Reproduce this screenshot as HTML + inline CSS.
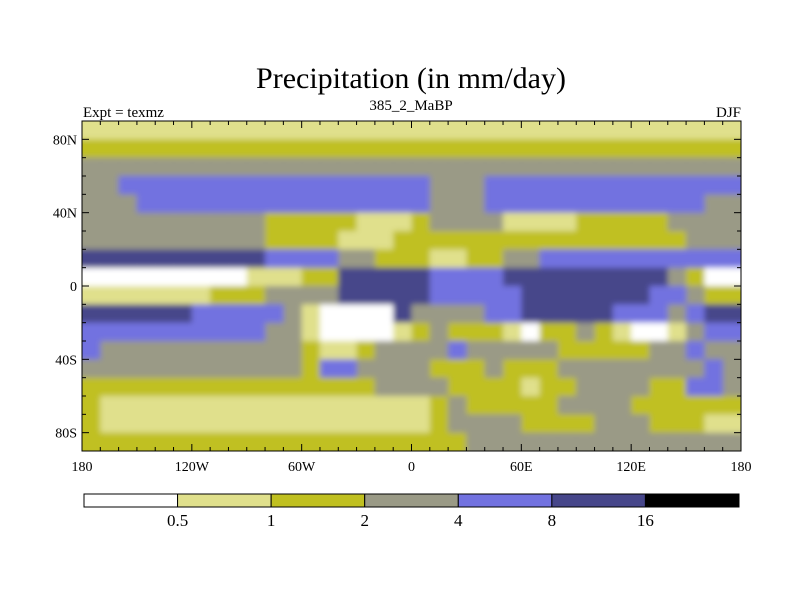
<!DOCTYPE html>
<html><head><meta charset="utf-8"><style>
body{margin:0;background:#fff;}
svg text{font-family:"Liberation Serif",serif;fill:#000;}
</style></head><body>
<svg id="chart" width="800" height="600" xmlns="http://www.w3.org/2000/svg">
<defs>
<filter id="soft" x="-5%" y="-5%" width="110%" height="110%"><feGaussianBlur stdDeviation="3"/></filter>
<clipPath id="plotclip"><rect x="82" y="121" width="659" height="330"/></clipPath>
</defs>
<rect width="800" height="600" fill="#fff"/>
<text x="411" y="88" font-size="30" text-anchor="middle">Precipitation (in mm/day)</text>
<text x="83" y="117" font-size="15">Expt = texmz</text>
<text x="411" y="110" font-size="15" text-anchor="middle">385_2_MaBP</text>
<text x="741" y="117" font-size="15" text-anchor="end">DJF</text>
<g clip-path="url(#plotclip)"><g id="cells" filter="url(#soft)"></g></g>
<g id="axes"></g>
<g id="cbar"></g>
</svg>
<script>
const levelColors = ["#ffffff","#e0e08c","#c0c020","#9a9a86","#7272e0","#46468a","#000000"];
const levelLabels = ["0.5","1","2","4","8","16"];
const latCenters = [85,75,65,55,45,35,25,15,5,-5,-15,-25,-35,-45,-55,-65,-75,-85];
const gridRows = [
"111111111111111111111111111111111111",
"222222222222222222222222222222222222",
"333333333333333333333333333333333333",
"334444444444444444433344444444444444",
"333444444444444444433344444444444433",
"333333333322222111233331111222223333",
"333333333322221112222222222222222333",
"555555555544443322211223344444444444",
"000000000111225555544445555555553200",
"111111122233335555544444555555544322",
"555555444443100005333344555554443455",
"444444444433100001232221022321001344",
"433333333333211233334333332222233433",
"333333333333244333322232223333333343",
"222222222222222233332222122333322443",
"211111111111111111123222223333222222",
"211111111111111111123333222233322211",
"222222222222222222222333333333333333"
];
const lonTicks = ["180","120W","60W","0","60E","120E","180"];
const lonTickVals = [-180,-120,-60,0,60,120,180];
const latTicks = ["80N","40N","0","40S","80S"];
const latTickVals = [80,40,0,-40,-80];

const NS="http://www.w3.org/2000/svg";
const X0=82,X1=741,Y0=121,Y1=451;
function xs(lon){return X0+(lon+180)/360*(X1-X0);}
function ys(lat){return Y0+(90-lat)/180*(Y1-Y0);}
function mk(tag,attrs,parent){const e=document.createElementNS(NS,tag);for(const k in attrs)e.setAttribute(k,attrs[k]);parent.appendChild(e);return e;}

const cells=document.getElementById('cells');
gridRows.forEach((row,r)=>{
  const lat=latCenters[r];
  for(let c=0;c<row.length;c++){
    const lon=-180+c*10;
    let x=xs(lon),w=xs(lon+10)-xs(lon)+0.5,y=ys(lat+5),h=ys(lat-5)-ys(lat+5)+0.5;
    if(c===0){x-=8;w+=8;} if(c===row.length-1){w+=8;}
    if(r===0){y-=8;h+=8;} if(r===gridRows.length-1){h+=8;}
    const e=mk('rect',{x:x,y:y,width:w,height:h,fill:levelColors[+row[c]]},cells);
    
    
  }
});

const axes=document.getElementById('axes');
const frame=mk('rect',{x:X0,y:Y0,width:X1-X0,height:Y1-Y0,fill:'none',stroke:'#000','stroke-width':1},axes);


for(let lon=-180;lon<=180;lon+=10){
  const L=(lon%60===0)?7:4;
  mk('line',{x1:xs(lon),x2:xs(lon),y1:Y1,y2:Y1-L,stroke:'#000'},axes);
  mk('line',{x1:xs(lon),x2:xs(lon),y1:Y0,y2:Y0+L,stroke:'#000'},axes);
}
for(let lat=-90;lat<=90;lat+=10){
  const L=(lat%40===0)?7:4;
  mk('line',{x1:X0,x2:X0+L,y1:ys(lat),y2:ys(lat),stroke:'#000'},axes);
  mk('line',{x1:X1,x2:X1-L,y1:ys(lat),y2:ys(lat),stroke:'#000'},axes);
}
lonTicks.forEach((t,i)=>{
  const e=mk('text',{x:xs(lonTickVals[i]),y:471,'font-size':14,'text-anchor':'middle'},axes);
  e.textContent=t;
  
  
});
latTicks.forEach((t,i)=>{
  const e=mk('text',{x:77,y:ys(latTickVals[i])+5,'font-size':14,'text-anchor':'end'},axes);
  e.textContent=t;
  
  
});

const cbar=document.getElementById('cbar');
const CB0=84,CB1=739,CBY=494,CBH=13;
const bw=(CB1-CB0)/levelColors.length;
levelColors.forEach((col,i)=>{
  const e=mk('rect',{x:CB0+i*bw,y:CBY,width:bw,height:CBH,fill:col,stroke:'#000','stroke-width':1},cbar);
  
  
});
levelLabels.forEach((t,i)=>{
  const e=mk('text',{x:CB0+(i+1)*bw,y:526,'font-size':17,'text-anchor':'middle'},cbar);
  e.textContent=t;
  
  
});
</script>
</body></html>
